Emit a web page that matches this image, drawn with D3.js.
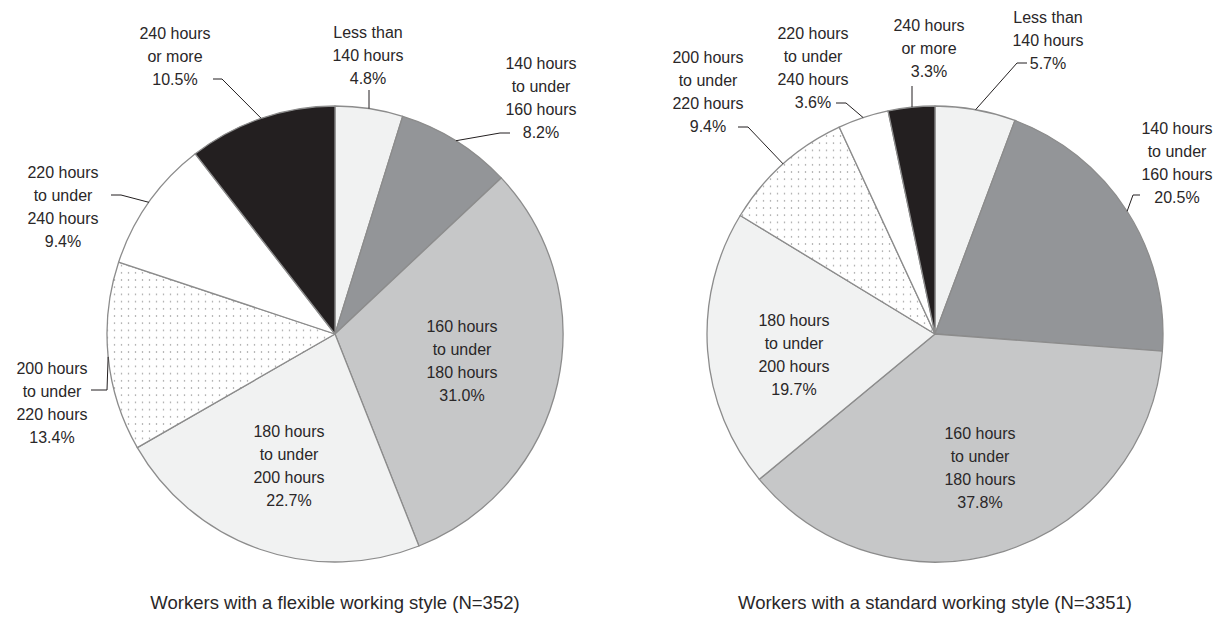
<!DOCTYPE html>
<meta charset="utf-8">
<style>
body { margin: 0; background: #fff; }
text {
  font-family: "Liberation Sans", Arial, sans-serif;
  fill: #2a2728;
}
.lbl { font-size: 16px; }
.title { font-size: 18.5px; }
</style>
<svg width="1225" height="617"></svg>
<script src="https://d3js.org/d3.v7.min.js"></script>
<script>

// categories (clockwise from 12 o'clock)
var categories = ["Less than 140 hours", "140 hours to under 160 hours", "160 hours to under 180 hours",
  "180 hours to under 200 hours", "200 hours to under 220 hours", "220 hours to under 240 hours", "240 hours or more"];
var labelLines = [
  ["Less than", "140 hours"],
  ["140 hours", "to under", "160 hours"],
  ["160 hours", "to under", "180 hours"],
  ["180 hours", "to under", "200 hours"],
  ["200 hours", "to under", "220 hours"],
  ["220 hours", "to under", "240 hours"],
  ["240 hours", "or more"]
];

// shares in %
var flexible = [4.8, 8.2, 31.0, 22.7, 13.4, 9.4, 10.5];
var standard = [5.7, 20.5, 37.8, 19.7, 9.4, 3.6, 3.3];

var titles = ["Workers with a flexible working style (N=352)", "Workers with a standard working style (N=3351)"];

var fills = ["#f1f2f2", "#939598", "#c6c7c8", "#f1f2f2", "url(#dots)", "#ffffff", "#231f20"];

// label placement, relative to pie centre: x,y = text centre / first line;
// lead = where the leader starts (null = label inside slice)
var layoutFlex = [
  {x: 33, y: -302, lead: [[34, -244]]},
  {x: 206, y: -271, lead: [[175, -201], [165, -201]]},
  {x: 127, y: -8, lead: null},
  {x: -46, y: 97, lead: null},
  {x: -283, y: 34, lead: [[-244, 56], [-228, 56]]},
  {x: -272, y: -162, lead: [[-224, -139], [-214, -139]]},
  {x: -160, y: -301, lead: [[-122, -255], [-113, -255]]}
];
var layoutStd = [
  {x: 113, y: -317, lead: [[92, -271], [82, -271]]},
  {x: 242, y: -206, lead: [[205, -139], [198, -139]]},
  {x: 45, y: 99, lead: null},
  {x: -141, y: -14, lead: null},
  {x: -227, y: -277, lead: [[-197, -207], [-187, -207]]},
  {x: -122, y: -301, lead: [[-99, -231], [-89, -231]]},
  {x: -6, y: -309, lead: [[-23, -248]]}
];

var svg = d3.select("svg"),
    radius = 228,
    lineH = 23;

// dotted fill
var pat = svg.append("defs").append("pattern")
    .attr("id", "dots")
    .attr("patternUnits", "userSpaceOnUse")
    .attr("width", 7).attr("height", 7.2);
pat.append("rect").attr("width", 7).attr("height", 7.2).attr("fill", "#fff");
pat.append("circle").attr("cx", 3.5).attr("cy", 3.6).attr("r", 0.75).attr("fill", "#8a8a8a");

var pie = d3.pie().sort(null).value(function(d) { return d; });
var arc = d3.arc().innerRadius(0).outerRadius(radius);

function drawPie(cx, cy, values, layout, title) {
  var g = svg.append("g").attr("transform", "translate(" + cx + "," + cy + ")");
  var arcs = pie(values);

  g.selectAll("path.slice")
    .data(arcs)
    .enter().append("path")
      .attr("class", "slice")
      .attr("d", arc)
      .attr("fill", function(d, i) { return fills[i]; })
      .attr("stroke", "#8c8c8c")
      .attr("stroke-width", 1.3)
      .attr("stroke-linejoin", "round");

  // leaders
  arcs.forEach(function(d, i) {
    var L = layout[i];
    if (!L.lead) return;
    var a = (d.startAngle + d.endAngle) / 2;
    var end = [radius * Math.sin(a), -radius * Math.cos(a)];
    var pts = L.lead.slice();
    if (pts.length == 1) end[0] = pts[0][0];
    pts.push(end);
    g.append("path")
      .attr("d", d3.line()(pts))
      .attr("fill", "none")
      .attr("stroke", "#231f20")
      .attr("stroke-width", 1);
  });

  // labels
  arcs.forEach(function(d, i) {
    var L = layout[i];
    var lines = labelLines[i].concat([d.data.toFixed(1) + "%"]);
    var t = g.append("text")
      .attr("class", "lbl")
      .attr("text-anchor", "middle");
    lines.forEach(function(s, k) {
      t.append("tspan")
        .attr("x", L.x)
        .attr("y", L.y + k * lineH)
        .attr("dy", "0.35em")
        .text(s);
    });
  });

  g.append("text")
    .attr("class", "title")
    .attr("text-anchor", "middle")
    .attr("y", 269)
    .attr("dy", "0.35em")
    .text(title);
}

drawPie(335, 334, flexible, layoutFlex, titles[0]);
drawPie(935, 334, standard, layoutStd, titles[1]);

</script>
